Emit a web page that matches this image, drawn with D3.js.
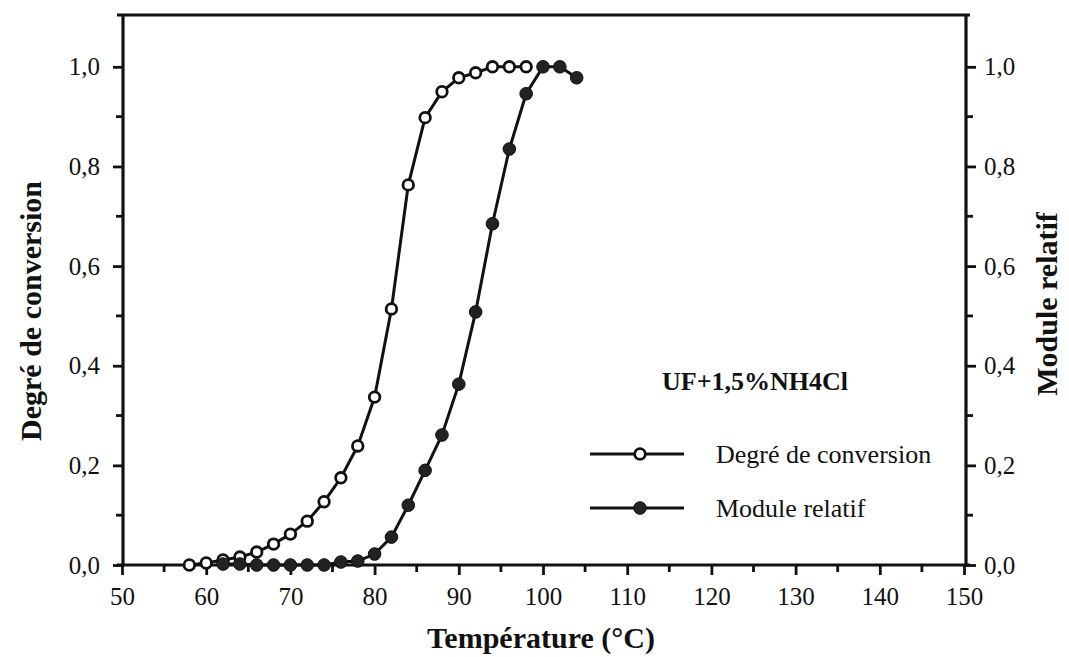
<!DOCTYPE html>
<html><head><meta charset="utf-8">
<script src="https://cdn.jsdelivr.net/npm/d3@7"></script>
<style>body{margin:0;background:#fff}svg{display:block}</style>
</head><body>
<svg id="c" width="1069" height="657"></svg>
<script>
const tempConv = [58,60,62,64,66,68,70,72,74,76,78,80,82,84,86,88,90,92,94,96,98];
const degreConversion = [0.0,0.004,0.01,0.016,0.026,0.042,0.062,0.088,0.127,0.175,0.239,0.337,0.514,0.763,0.898,0.950,0.978,0.988,1.0,1.0,1.0];
const tempMod = [62,64,66,68,70,72,74,76,78,80,82,84,86,88,90,92,94,96,98,100,102,104];
const moduleRelatif = [0.002,0.002,0.0,0.0,0.0,0.0,0.0,0.006,0.008,0.022,0.056,0.12,0.19,0.261,0.363,0.508,0.685,0.835,0.946,1.0,1.0,0.978];
const xTicks = [50,60,70,80,90,100,110,120,130,140,150];
const yTicks = [0,0.2,0.4,0.6,0.8,1.0];
const yLabels = ["0,0","0,2","0,4","0,6","0,8","1,0"];

const svg = d3.select("#c");
const L=122, R=964, B=565, T=17;
const x = d3.scaleLinear().domain([50,150]).range([L,R]);
const y = d3.scaleLinear().domain([0,1.1]).range([B,T]);
const font = "'Liberation Serif','Times New Roman',serif";
const ink = "#111";

// frame
svg.append("line").attr("x1",117).attr("x2",970).attr("y1",15).attr("y2",15).attr("stroke",ink).attr("stroke-width",3.2);
svg.append("line").attr("x1",123).attr("x2",123).attr("y1",14).attr("y2",566).attr("stroke",ink).attr("stroke-width",3.2);
svg.append("line").attr("x1",966).attr("x2",966).attr("y1",14).attr("y2",566).attr("stroke",ink).attr("stroke-width",3.2);

// bottom axis
const minorX = d3.range(55,150,10);
const gx = svg.append("g").attr("transform",`translate(0,${B})`);
gx.call(d3.axisBottom(x).tickValues(xTicks).tickSize(10).tickPadding(12).tickFormat(d3.format("d")));
minorX.forEach(v=>gx.append("line").attr("x1",x(v)).attr("x2",x(v)).attr("y1",0).attr("y2",7).attr("stroke",ink).attr("stroke-width",2.8));
gx.select(".domain").attr("stroke",ink).attr("stroke-width",3.2).attr("d",`M117,0H970`);
gx.selectAll(".tick line").attr("stroke",ink).attr("stroke-width",2.8);
gx.selectAll(".tick text").attr("font-family",font).attr("font-size",25).attr("fill",ink);

// left axis
const minorY = [0.1,0.3,0.5,0.7,0.9];
const gl = svg.append("g").attr("transform",`translate(123,0)`);
gl.call(d3.axisLeft(y).tickValues(yTicks).tickSize(10).tickPadding(13).tickFormat((d,i)=>yLabels[i]));
gl.select(".domain").remove();
gl.selectAll(".tick line").attr("stroke",ink).attr("stroke-width",2.8);
gl.selectAll(".tick text").attr("font-family",font).attr("font-size",25).attr("fill",ink);
minorY.forEach(v=>gl.append("line").attr("x1",0).attr("x2",-7).attr("y1",y(v)).attr("y2",y(v)).attr("stroke",ink).attr("stroke-width",2.8));

// right axis
const gr = svg.append("g").attr("transform",`translate(966,0)`);
gr.call(d3.axisRight(y).tickValues(yTicks).tickSize(10).tickPadding(8).tickFormat((d,i)=>yLabels[i]));
gr.select(".domain").remove();
gr.selectAll(".tick line").attr("stroke",ink).attr("stroke-width",2.8);
gr.selectAll(".tick text").attr("font-family",font).attr("font-size",25).attr("fill",ink);
minorY.forEach(v=>gr.append("line").attr("x1",0).attr("x2",7).attr("y1",y(v)).attr("y2",y(v)).attr("stroke",ink).attr("stroke-width",2.8));

// axis titles
svg.append("text").attr("x",541).attr("y",648).attr("text-anchor","middle")
  .attr("font-family",font).attr("font-weight","bold").attr("font-size",30).attr("fill",ink)
  .text("Température (°C)");
svg.append("text").attr("transform","translate(41,311) rotate(-90)").attr("text-anchor","middle")
  .attr("font-family",font).attr("font-weight","bold").attr("font-size",30).attr("fill",ink)
  .text("Degré de conversion");
svg.append("text").attr("transform","translate(1057,304) rotate(-90)").attr("text-anchor","middle")
  .attr("font-family",font).attr("font-weight","bold").attr("font-size",30).attr("fill",ink)
  .text("Module relatif");

// series
const conv = tempConv.map((t,i)=>({t,v:degreConversion[i]}));
const mod = tempMod.map((t,i)=>({t,v:moduleRelatif[i]}));
const line = d3.line().x(d=>x(d.t)).y(d=>y(d.v));
svg.append("path").datum(conv).attr("d",line).attr("fill","none").attr("stroke",ink).attr("stroke-width",3);
svg.append("path").datum(mod).attr("d",line).attr("fill","none").attr("stroke",ink).attr("stroke-width",3);
svg.selectAll(".oc").data(conv).enter().append("circle").attr("cx",d=>x(d.t)).attr("cy",d=>y(d.v)).attr("r",5.3)
  .attr("fill","#fff").attr("stroke",ink).attr("stroke-width",2.8);
svg.selectAll(".fc").data(mod).enter().append("circle").attr("cx",d=>x(d.t)).attr("cy",d=>y(d.v)).attr("r",6.3)
  .attr("fill","#222").attr("stroke",ink).attr("stroke-width",1);

// legend
svg.append("text").attr("x",755).attr("y",390).attr("text-anchor","middle")
  .attr("font-family",font).attr("font-weight","bold").attr("font-size",26).attr("fill",ink).text("UF+1,5%NH4Cl");
const leg = [{name:"Degré de conversion",open:true,y:454},{name:"Module relatif",open:false,y:508}];
leg.forEach(l=>{
  svg.append("line").attr("x1",590).attr("x2",684).attr("y1",l.y).attr("y2",l.y).attr("stroke",ink).attr("stroke-width",3);
  svg.append("circle").attr("cx",640).attr("cy",l.y).attr("r",l.open?5.3:6.3).attr("fill",l.open?"#fff":"#222").attr("stroke",ink).attr("stroke-width",l.open?2.8:1);
  svg.append("text").attr("x",716).attr("y",l.y+9).attr("font-family",font).attr("font-size",26).attr("fill",ink).text(l.name);
});
</script>
</body></html>
